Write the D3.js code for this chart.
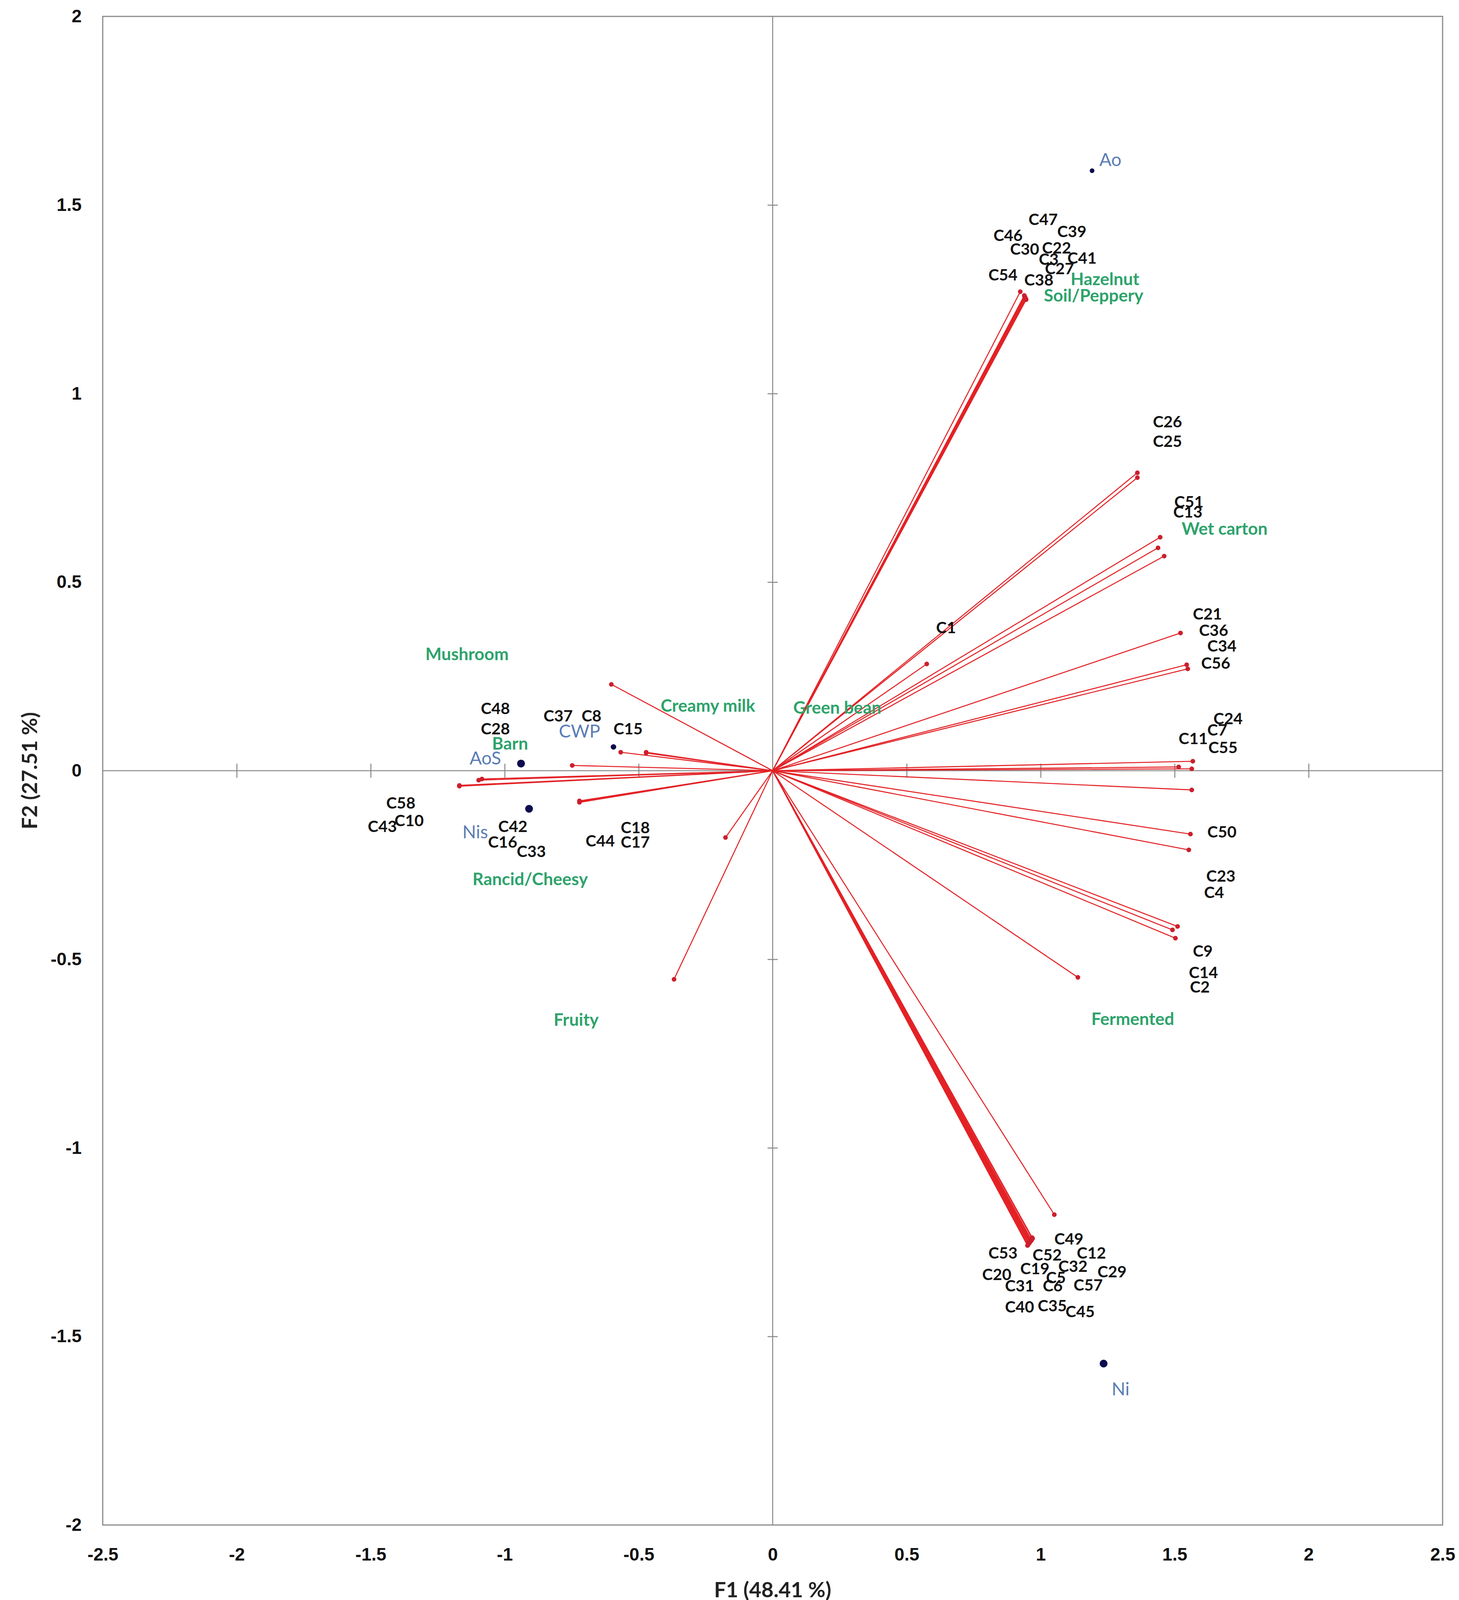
<!DOCTYPE html>
<html><head><meta charset="utf-8">
<script src="https://cdn.jsdelivr.net/npm/d3@7"></script>
<style>html,body{margin:0;padding:0;background:#fff}</style>
</head><body><svg id="chart"></svg>
<script>
// ---------- DATA ----------
const xTicks = [-2.5, -2, -1.5, -1, -0.5, 0, 0.5, 1, 1.5, 2, 2.5];
const yTicks = [-2, -1.5, -1, -0.5, 0, 0.5, 1, 1.5, 2];
const xTitle = "F1 (48.41 %)";
const yTitle = "F2 (27.51 %)";

// Loading vectors (end points, F1 / F2)
const vectorF1 = [
  0.924, 0.943, 0.940, 0.942, 0.945, 0.941, 0.939, 0.944, 0.946, 0.942,
  1.361, 1.361, 1.446, 1.438, 1.461, 0.575, 1.522, 1.545, 1.549,
  1.568, 1.515, 1.564, 1.564, 1.559, 1.553, 1.511, 1.492, 1.503, 1.139,
  1.051, 0.970, 0.962, 0.951, 0.965, 0.958, 0.968, 0.955, 0.960, 0.966, 0.953, 0.963, 0.957, 0.969, 0.961,
  -0.602, -0.472, -0.472, -0.567, -0.748, -1.085, -1.097, -1.169, -1.169, -0.721, -0.721, -0.721, -0.176, -0.368
];
const vectorF2 = [
  1.270, 1.253, 1.258, 1.255, 1.250, 1.256, 1.260, 1.252, 1.249, 1.254,
  0.790, 0.777, 0.619, 0.591, 0.569, 0.283, 0.365, 0.281, 0.270,
  0.025, 0.010, 0.005, -0.051, -0.168, -0.210, -0.413, -0.422, -0.444, -0.548,
  -1.177, -1.240, -1.248, -1.259, -1.243, -1.252, -1.238, -1.255, -1.250, -1.245, -1.257, -1.246, -1.253, -1.241, -1.249,
  0.229, 0.049, 0.047, 0.049, 0.014, -0.022, -0.025, -0.041, -0.039, -0.082, -0.080, -0.084, -0.177, -0.553
];

// Compound labels
const compoundNames = [
  "C47","C39","C46","C30","C22","C3","C41","C27","C54","C38",
  "C26","C25","C51","C13","C1","C21","C36","C34","C56","C24","C7","C11","C55","C50","C23","C4","C9","C14","C2",
  "C48","C28","C37","C8","C15","C58","C10","C43","C42","C16","C33","C18","C44","C17",
  "C49","C53","C52","C12","C32","C19","C29","C20","C5","C31","C6","C57","C40","C35","C45"
];
const compoundLabelF1 = [
  0.955, 1.062, 0.824, 0.886, 1.005, 0.993, 1.100, 1.016, 0.805, 0.939,
  1.419, 1.419, 1.499, 1.495, 0.610, 1.568, 1.591, 1.622, 1.599, 1.645, 1.622, 1.515, 1.626, 1.622, 1.618, 1.610, 1.568, 1.553, 1.557,
  -1.089, -1.089, -0.855, -0.713, -0.594, -1.442, -1.411, -1.511, -1.024, -1.062, -0.955, -0.567, -0.698, -0.567,
  1.051, 0.805, 0.970, 1.135, 1.066, 0.924, 1.212, 0.782, 1.020, 0.867, 1.008, 1.123, 0.867, 0.989, 1.093
];
const compoundLabelF2 = [
  1.463, 1.431, 1.420, 1.384, 1.387, 1.357, 1.360, 1.332, 1.316, 1.302,
  0.926, 0.875, 0.714, 0.687, 0.381, 0.417, 0.373, 0.332, 0.286, 0.139, 0.109, 0.087, 0.063, -0.161, -0.278, -0.322, -0.477, -0.534, -0.572,
  0.166, 0.112, 0.147, 0.147, 0.112, -0.084, -0.131, -0.147, -0.147, -0.188, -0.213, -0.150, -0.185, -0.188,
  -1.240, -1.278, -1.283, -1.278, -1.313, -1.319, -1.327, -1.335, -1.343, -1.365, -1.365, -1.362, -1.420, -1.417, -1.433
];

// Sensory attribute labels
const attributeNames = ["Hazelnut","Soil/Peppery","Wet carton","Green bean","Creamy milk","Mushroom","Barn","Rancid/Cheesy","Fruity","Fermented"];
const attributeLabelF1 = [1.112, 1.012, 1.526, 0.077, -0.418, -1.296, -1.047, -1.120, -0.817, 1.189];
const attributeLabelF2 = [1.305, 1.262, 0.643, 0.169, 0.174, 0.311, 0.074, -0.286, -0.659, -0.657];

// Samples (observations)
const sampleNames = ["Ao","Ni","CWP","AoS","Nis"];
const sampleF1 = [1.192, 1.235, -0.594, -0.939, -0.909];
const sampleF2 = [1.591, -1.572, 0.063, 0.019, -0.101];
const sampleLabelF1 = [1.219, 1.265, -0.798, -1.131, -1.158];
const sampleLabelF2 = [1.621, -1.638, 0.106, 0.035, -0.161];

// ---------- DRAW ----------
(function () {
const W = 3736, H = 4120;
const mL = 263, mR = 3694, mT = 42, mB = 3904;
const svg = d3.select("#chart").attr("width", W).attr("height", H)
  .style("background", "#fff").style("display", "block");

const x = d3.scaleLinear().domain([-2.5, 2.5]).range([mL, mR]);
const y = d3.scaleLinear().domain([-2, 2]).range([mB, mT]);

const labelFont = "Lato, 'Open Sans', 'DejaVu Sans', sans-serif";
const tickFont = "'Liberation Sans Narrow', 'Arial Narrow', 'Liberation Sans', Arial, sans-serif";
const gray = "#8a8a8a";

// frame
svg.append("rect").attr("x", mL).attr("y", mT)
  .attr("width", mR - mL).attr("height", mB - mT)
  .attr("fill", "none").attr("stroke", gray).attr("stroke-width", 3);

// center axes lines
svg.append("line").attr("x1", mL).attr("x2", mR).attr("y1", y(0)).attr("y2", y(0))
  .attr("stroke", gray).attr("stroke-width", 2.6);
svg.append("line").attr("x1", x(0)).attr("x2", x(0)).attr("y1", mT).attr("y2", mB)
  .attr("stroke", gray).attr("stroke-width", 2.6);

// tick marks on center axes
const xAxisTicks = svg.append("g").attr("transform", `translate(0,${y(0) - 18})`)
  .call(d3.axisBottom(x).tickValues(xTicks.filter(v => v !== 0 && Math.abs(v) < 2.5)).tickSize(36).tickFormat(""));
xAxisTicks.select(".domain").remove();
xAxisTicks.selectAll(".tick line").attr("stroke", gray).attr("stroke-width", 2.6);

const yAxisTicks = svg.append("g").attr("transform", `translate(${x(0) + 13},0)`)
  .call(d3.axisLeft(y).tickValues(yTicks.filter(v => v !== 0 && Math.abs(v) < 2)).tickSize(26).tickFormat(""));
yAxisTicks.select(".domain").remove();
yAxisTicks.selectAll(".tick line").attr("stroke", gray).attr("stroke-width", 2.6);

// tick labels (outside frame)
const xLab = svg.append("g").attr("transform", `translate(0,${mB})`)
  .call(d3.axisBottom(x).tickValues(xTicks).tickSize(0).tickPadding(58).tickFormat(d => String(d)));
xLab.select(".domain").remove();
xLab.selectAll("text").attr("font-family", tickFont).attr("font-weight", "bold")
  .attr("font-size", 46).attr("fill", "#111");

const yLab = svg.append("g").attr("transform", `translate(${mL},0)`)
  .call(d3.axisLeft(y).tickValues(yTicks).tickSize(0).tickPadding(54).tickFormat(d => String(d)));
yLab.select(".domain").remove();
yLab.selectAll("text").attr("font-family", tickFont).attr("font-weight", "bold")
  .attr("font-size", 46).attr("fill", "#111");

// axis titles
svg.append("text").attr("x", x(0)).attr("y", 4068).attr("text-anchor", "middle")
  .attr("dominant-baseline", "central").attr("font-family", labelFont).attr("font-weight", "bold")
  .attr("font-size", 54).attr("fill", "#222").text(xTitle);
svg.append("text").attr("transform", `translate(74,${y(0)}) rotate(-90)`).attr("text-anchor", "middle")
  .attr("dominant-baseline", "central").attr("font-family", labelFont).attr("font-weight", "bold")
  .attr("font-size", 54).attr("fill", "#222").text(yTitle);

// vectors
const vectors = vectorF1.map((v, i) => ({ f1: v, f2: vectorF2[i] }));
svg.append("g").selectAll("line").data(vectors).join("line")
  .attr("x1", x(0)).attr("y1", y(0))
  .attr("x2", d => x(d.f1)).attr("y2", d => y(d.f2))
  .attr("stroke", "#e32226").attr("stroke-width", 2.6);
svg.append("g").selectAll("circle").data(vectors).join("circle")
  .attr("cx", d => x(d.f1)).attr("cy", d => y(d.f2)).attr("r", 6)
  .attr("fill", "#cc1f2d");

// sample points
const dotR = { Ao: 6, Ni: 10, CWP: 7, AoS: 10, Nis: 10 };
const samples = sampleNames.map((n, i) => ({ n, f1: sampleF1[i], f2: sampleF2[i], lx: sampleLabelF1[i], ly: sampleLabelF2[i] }));
svg.append("g").selectAll("circle").data(samples).join("circle")
  .attr("cx", d => x(d.f1)).attr("cy", d => y(d.f2)).attr("r", d => dotR[d.n])
  .attr("fill", "#0c0c4e");

// compound labels
const compounds = compoundNames.map((n, i) => ({ n, lx: compoundLabelF1[i], ly: compoundLabelF2[i] }));
svg.append("g").selectAll("text").data(compounds).join("text")
  .attr("x", d => x(d.lx)).attr("y", d => y(d.ly)).attr("dominant-baseline", "central")
  .attr("font-family", labelFont).attr("font-weight", "bold").attr("font-size", 41)
  .attr("fill", "#111").text(d => d.n);

// attribute labels
const attrs = attributeNames.map((n, i) => ({ n, lx: attributeLabelF1[i], ly: attributeLabelF2[i] }));
svg.append("g").selectAll("text").data(attrs).join("text")
  .attr("x", d => x(d.lx)).attr("y", d => y(d.ly)).attr("dominant-baseline", "central")
  .attr("font-family", labelFont).attr("font-weight", "bold").attr("font-size", 44)
  .attr("fill", "#2ea36b").text(d => d.n);

// sample labels
svg.append("g").selectAll("text").data(samples).join("text")
  .attr("x", d => x(d.lx)).attr("y", d => y(d.ly)).attr("dominant-baseline", "central")
  .attr("font-family", labelFont).attr("font-size", 46)
  .attr("fill", "#5a7db5").text(d => d.n);
})();
</script>
</body></html>
